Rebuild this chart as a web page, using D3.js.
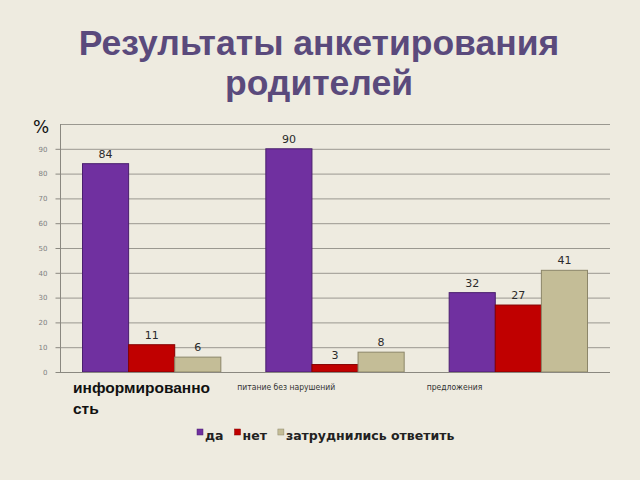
<!DOCTYPE html>
<html><head><meta charset="utf-8">
<script src="https://cdn.jsdelivr.net/npm/d3@7"></script>
<style>
html,body{margin:0;padding:0;background:#EEEBE0;}
svg{display:block;}
</style></head>
<body>
<svg id="c" width="640" height="480"></svg>
<script>
const categories = ["информированность", "питание без нарушений", "предложения"];
const seriesNames = ["да", "нет", "затруднились ответить"];
const yes = [84, 90, 32];
const no = [11, 3, 27];
const unsure = [6, 8, 41];
const yTicks = [0, 10, 20, 30, 40, 50, 60, 70, 80, 90, 100];
const titleLines = ["Результаты анкетирования", "родителей"];

(function(){
const seriesValues = [yes, no, unsure];
const colors = ["#7030A0", "#C00000", "#C4BD97"];
const strokes = ["#4A1F6E", "#850000", "#8C8669"];

const svg = d3.select("#c");
const pLeft = 60, pRight = 610, pTop = 124, pBottom = 372;

svg.append("rect").attr("width",640).attr("height",480).attr("fill","#EEEBE0");

// title
svg.append("g").selectAll("text").data(titleLines).join("text")
  .attr("x", 319).attr("y", (d,i)=> 55 + i*40)
  .attr("text-anchor","middle")
  .attr("font-family","Liberation Sans, Arial, sans-serif")
  .attr("font-weight","bold").attr("font-size", 35.5)
  .attr("fill","#5A4A7C")
  .text(d=>d);

const x0 = d3.scaleBand().domain(categories).range([pLeft, pRight]).padding(0);
const x1 = d3.scaleBand().domain(d3.range(seriesNames.length))
  .range([22.5, x0.bandwidth() - 22.5]).padding(0);
const y = d3.scaleLinear().domain([0, 100]).range([pBottom, pTop]);

// gridlines
svg.append("g").selectAll("line").data(yTicks.filter(t=>t>0)).join("line")
  .attr("x1", pLeft).attr("x2", pRight)
  .attr("y1", d=>y(d)+0.5).attr("y2", d=>y(d)+0.5)
  .attr("stroke","#9A9890").attr("stroke-width",1);

// y axis
const yAxis = d3.axisLeft(y).tickValues(yTicks.filter(t=>t<100)).tickSize(5).tickPadding(8);
const ya = svg.append("g").attr("transform",`translate(${pLeft+0.5},0)`).call(yAxis);
ya.select(".domain").attr("stroke","#8A8880").attr("d", `M0,${pTop}V${pBottom}`);
ya.selectAll(".tick line").attr("stroke","#8A8880");
ya.selectAll(".tick text").attr("fill","#808080").attr("font-size",7)
  .attr("font-family","DejaVu Sans, sans-serif");

// bars
const groups = svg.append("g").selectAll("g").data(categories).join("g")
  .attr("transform", d=>`translate(${x0(d)},0)`);
groups.selectAll("rect").data((c,ci)=> seriesValues.map((s,si)=>({si, v:s[ci]})))
  .join("rect")
  .attr("x", d=>x1(d.si)).attr("width", x1.bandwidth())
  .attr("y", d=>y(d.v)).attr("height", d=>pBottom - y(d.v))
  .attr("fill", d=>colors[d.si]).attr("stroke", d=>strokes[d.si]).attr("stroke-width",1);
groups.selectAll("text.lbl").data((c,ci)=> seriesValues.map((s,si)=>({si, v:s[ci]})))
  .join("text").attr("class","lbl")
  .attr("x", d=>x1(d.si) + x1.bandwidth()/2)
  .attr("y", d=>y(d.v) - 6)
  .attr("text-anchor","middle")
  .attr("font-family","DejaVu Sans, sans-serif").attr("font-size",11)
  .attr("fill","#2a2a2a")
  .text(d=>d.v);

// x axis baseline
svg.append("line").attr("x1",pLeft).attr("x2",pRight).attr("y1",pBottom+0.5).attr("y2",pBottom+0.5)
  .attr("stroke","#8A8880");

// category labels
const c0x = x0(categories[0]) + 13;
const c0 = svg.append("text").attr("x", c0x).attr("y", 393)
  .attr("font-family","Liberation Sans, Arial, sans-serif").attr("font-weight","bold")
  .attr("font-size",15.5).attr("fill","#111");
c0.append("tspan").attr("x", c0x).attr("dy",0).text(categories[0].slice(0,14));
c0.append("tspan").attr("x", c0x).attr("dy",21).text(categories[0].slice(14));
svg.append("g").selectAll("text").data(categories.slice(1)).join("text")
  .attr("x", d=> x0(d) - 6 + (d===categories[2]?6:0)).attr("y", 390)
  .attr("font-family","DejaVu Sans Condensed, DejaVu Sans, sans-serif").attr("font-size",8.5)
  .attr("fill","#333").text(d=>d);

// % label
svg.append("text").attr("x", 33).attr("y", 133)
  .attr("font-family","DejaVu Sans, sans-serif").attr("font-size",17).attr("fill","#111").text("%");

// legend
const lg = svg.append("g").attr("transform","translate(197,437)");
let lx = 0;
seriesNames.forEach((n,i)=>{
  const g = lg.append("g").attr("transform",`translate(${lx},0)`);
  g.append("rect").attr("x",0).attr("y",-8).attr("width",6).attr("height",6)
    .attr("fill",colors[i]).attr("stroke",strokes[i]).attr("stroke-width",0.5);
  const t = g.append("text").attr("x",8).attr("y",3)
    .attr("font-family","DejaVu Sans, sans-serif").attr("font-weight","bold")
    .attr("font-size",12.5).attr("fill","#222").text(n);
  lx += 8 + t.node().getComputedTextLength() + 11;
});
})();
</script>
</body></html>
